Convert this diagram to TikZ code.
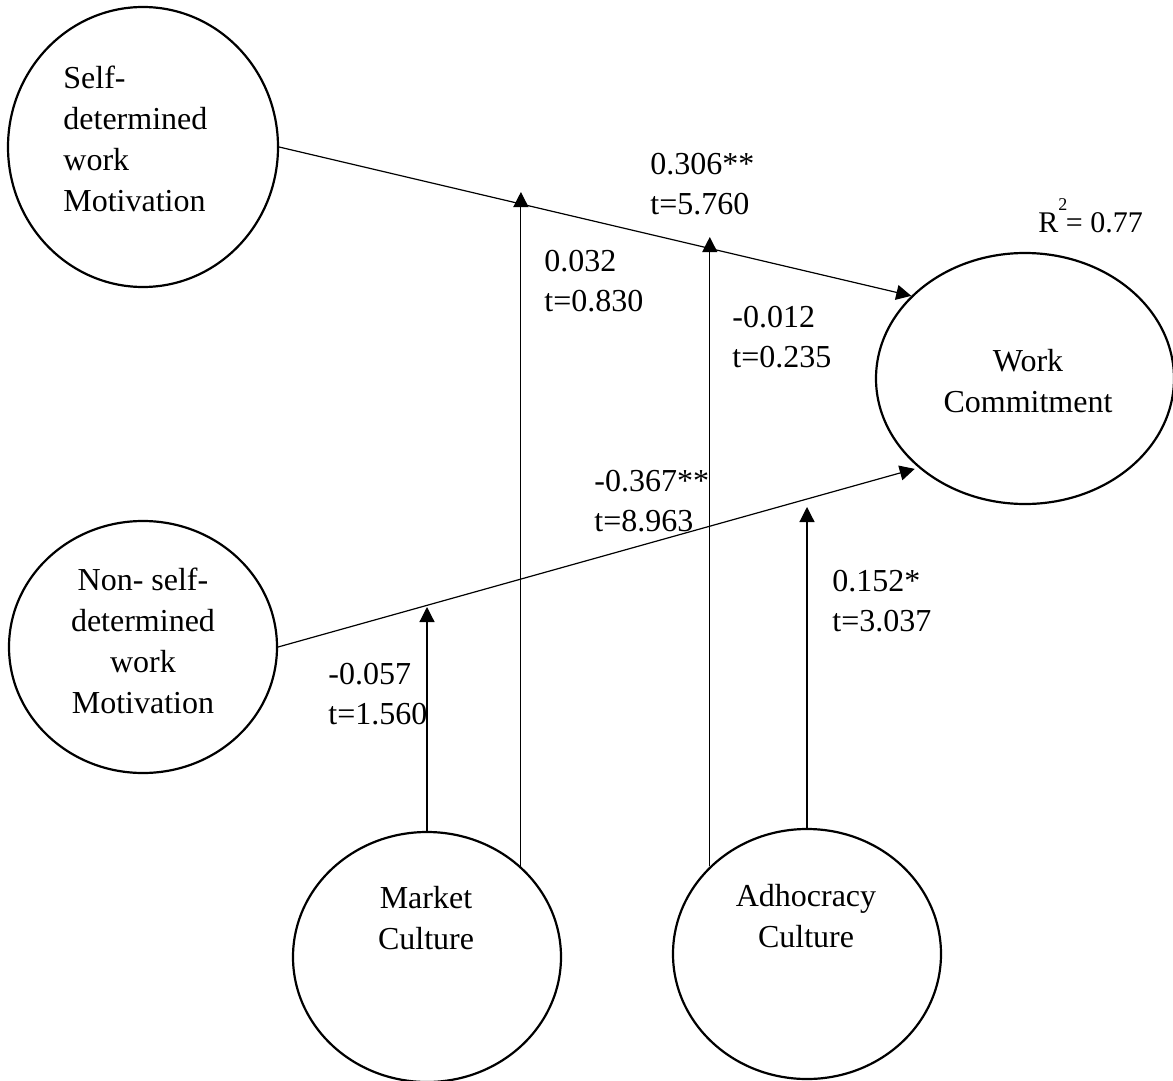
\documentclass[tikz,border=0pt]{standalone}
\usepackage{fontspec}
\setmainfont{Liberation Serif}
\usepackage{tikz}
\usetikzlibrary{shapes.geometric, arrows.meta, positioning, calc}

\begin{document}
\begin{tikzpicture}[x=0.5pt, y=-0.5pt,
        construct/.style={draw, ellipse, line width=1.1pt, inner sep=0pt},
        constructtext/.style={inner sep=0pt, font=\fontsize{16}{20.5}\selectfont},
        coef/.style={anchor=west, align=left, inner sep=0pt, font=\fontsize{16}{20}\selectfont},
        patharrow/.style={line width=0.6pt, -{Triangle[length=7.5pt,width=7.5pt]}}]

        \useasboundingbox (0,0) rectangle (1173,1081);

        % latent constructs
        \node[construct, minimum width=135pt, minimum height=140pt] (SDM) at (143,147) {};
        \node[construct, minimum width=134pt, minimum height=126pt] (NSDM) at (143,647) {};
        \node[construct, minimum width=149pt, minimum height=125.5pt] (WC) at (1025,378.5) {};
        \node[construct, minimum width=134pt, minimum height=125pt] (MC) at (427,957) {};
        \node[construct, minimum width=134pt, minimum height=125pt] (AC) at (807,954) {};

        \node[constructtext, anchor=west, align=left] (SDMtext) at (63,138.5) {Self-\\determined\\work\\Motivation};
        \node[constructtext, align=center] (NSDMtext) at (143,640.5) {Non- self-\\determined\\work\\Motivation};
        \node[constructtext, align=center] (WCtext) at (1028,381.5) {Work\\Commitment};
        \node[constructtext, align=center] (MCtext) at (426,918.5) {Market\\Culture};
        \node[constructtext, align=center] (ACtext) at (806,916.5) {Adhocracy\\Culture};

        % moderation points on the paths
        \coordinate (m1) at (427,607);
        \coordinate (m2) at (520,192);
        \coordinate (m3) at (711,237);
        \coordinate (m4) at (807,507);

        % direct paths
        \draw[patharrow] (SDM.east) -- (WC.144);
        \draw[patharrow, shorten >=2pt] (NSDM.east) -- (WC.220);

        % moderating paths
        \draw[patharrow] (MC.north) -- (m1);
        \draw[patharrow] (MC.44) -- (MC.44 |- m2);
        \draw[patharrow] (AC.138) -- (AC.138 |- m3);
        \draw[patharrow] (AC.north) -- (m4);

        % coefficients
        \node[coef] (c306) at (650,184) {0.306**\\t=5.760};
        \node[coef] (c032) at (544,281) {0.032\\t=0.830};
        \node[coef] (c012) at (732,337) {-0.012\\t=0.235};
        \node[coef] (c367) at (594,501) {-0.367**\\t=8.963};
        \node[coef] (c152) at (832,601) {0.152*\\t=3.037};
        \node[coef] (c057) at (328,694) {-0.057\\t=1.560};
        \node[anchor=base west, inner sep=0pt, font=\fontsize{15}{18}\selectfont] (rsq) at (1038,232)
            {R\rlap{\raisebox{11pt}{\fontsize{9}{9}\selectfont 2}} = 0.77};
    \end{tikzpicture}
\end{document}
